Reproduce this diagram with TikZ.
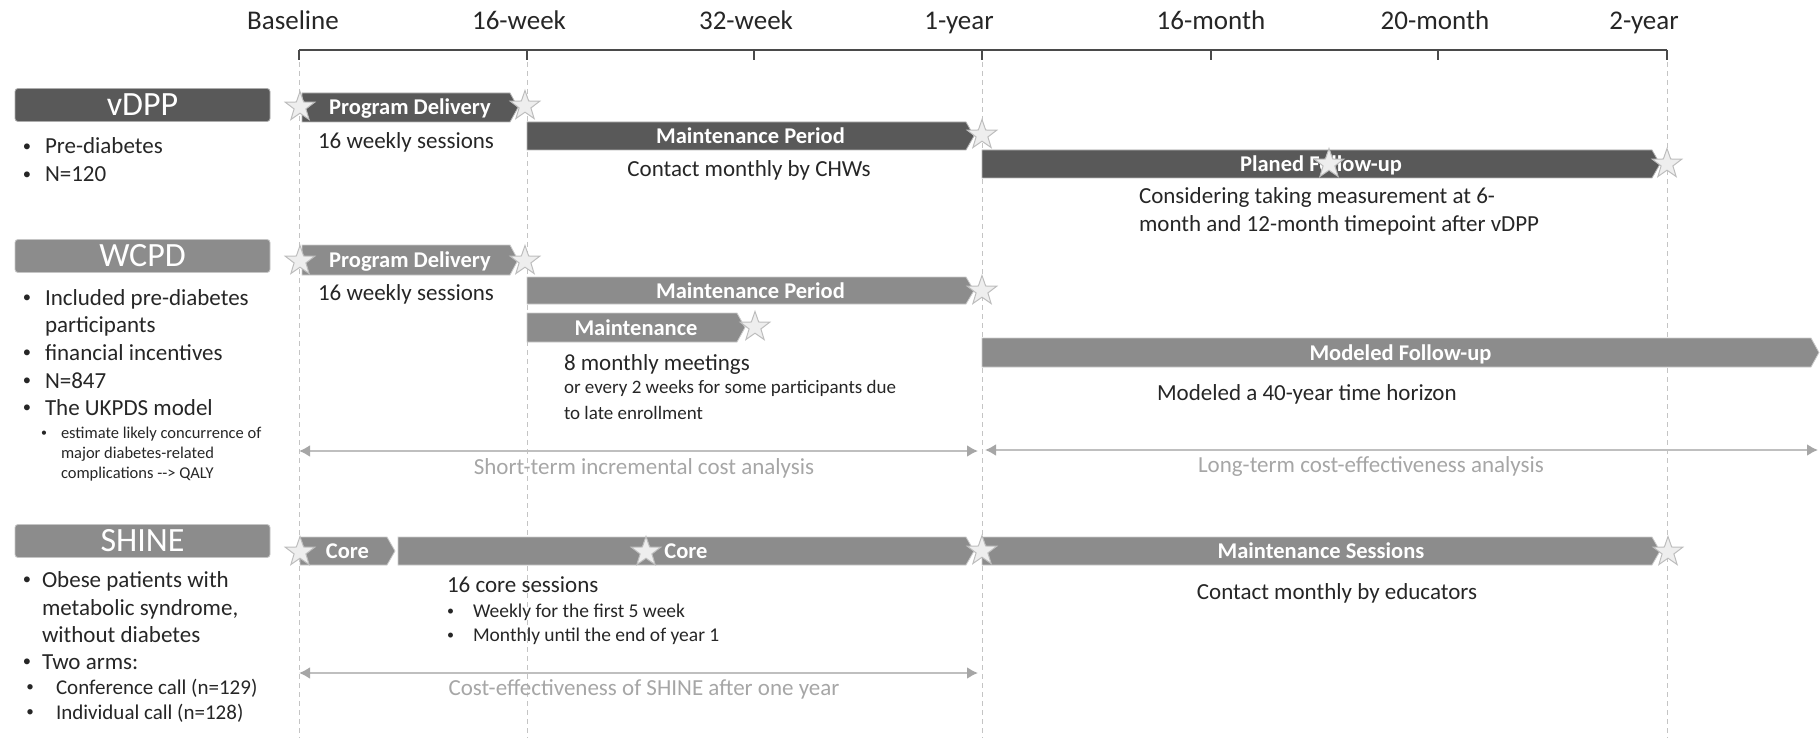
\documentclass[tikz,border=0pt]{standalone}
\usepackage{fontspec}
\setmainfont{Carlito}
\usetikzlibrary{shapes.geometric,arrows.meta}

\definecolor{dark}{HTML}{595959}
\definecolor{mid}{HTML}{8C8C8C}
\definecolor{ink}{HTML}{262626}
\definecolor{soft}{HTML}{A6A6A6}
\definecolor{rule}{HTML}{BFBFBF}
\definecolor{guide}{HTML}{C4C4C4}
\definecolor{axisink}{HTML}{4A4A4A}
\definecolor{starfill}{HTML}{EEEEEE}
\definecolor{staredge}{HTML}{BDBDBD}

\newcommand\fs[1]{\fontsize{#1}{#1}\selectfont}
% small bullet hung to the left of the line
\newcommand\bul[1]{\llap{\raisebox{0.1em}{\scalebox{0.72}{\textbullet}}\hspace{#1}}}

% a phase bar: flat left end, short chevron on the right, bold label in the middle
% #1 name, #2 left x, #3 tip x, #4 top y, #5 bottom y, #6 colour, #7 label
\newcommand\phase[7]{%
  \path[fill=#6, draw=#6!45!white, line width=0.8pt]
    (#2,#4) -- ({#3-8},#4) -- (#3,{(#4+#5)/2}) -- ({#3-8},#5) -- (#2,#5) -- cycle;
  \node[barlabel] (#1) at ({(#2+#3)/2},{(#4+#5)/2+7.5}) {#7};}

\tikzset{
  every node/.style={inner sep=0pt, outer sep=0pt},
  axislabel/.style={anchor=base, font=\fs{27}, text=ink},
  body/.style={anchor=base west, font=\fs{23}, text=ink},
  bodyc/.style={anchor=base, font=\fs{23}, text=ink},
  smallbody/.style={anchor=base west, font=\fs{19}, text=ink},
  corebody/.style={anchor=base west, font=\fs{19.5}, text=ink},
  armbody/.style={anchor=base west, font=\fs{21}, text=ink},
  tinybody/.style={anchor=base west, font=\fs{16.5}, text=ink},
  softlabel/.style={anchor=base, font=\fs{23}, text=soft},
  barlabel/.style={anchor=base, font=\bfseries\fs{22.5}, text=white},
  titlebox/.style={rectangle, rounded corners=3pt, minimum width=255pt,
    minimum height=33pt, fill=#1, draw=#1!50!white, line width=0.8pt,
    font=\fs{34}, text=white},
  starmark/.style={star, star points=5, star point ratio=2.5, minimum size=31pt,
    fill=starfill, draw=staredge, line width=1pt},
  axisline/.style={draw=axisink, line width=2pt},
  guideline/.style={draw=guide, line width=1pt, dash pattern=on 5pt off 4pt},
  span/.style={draw=rule, line width=2pt,
    {Latex[length=11pt,width=12pt,color=soft]}-{Latex[length=11pt,width=12pt,color=soft]}},
}

\begin{document}
\begin{tikzpicture}[x=1pt,y=-1pt]
\useasboundingbox (0,0) rectangle (1820,738);

% ---- time axis ----
\coordinate (t0) at (299,50);
\coordinate (t1) at (527,50);
\coordinate (t2) at (754,50);
\coordinate (t3) at (982,50);
\coordinate (t4) at (1211,50);
\coordinate (t5) at (1438,50);
\coordinate (t6) at (1667,50);
\draw[axisline] (t0) -- (t6);
\foreach \t in {t0,t1,t2,t3,t4,t5,t6} \draw[axisline] (\t) -- ++(0,10);

\node[axislabel] (lb0) at (293,30) {Baseline};
\node[axislabel] (lb1) at (519,30) {16-week};
\node[axislabel] (lb2) at (746,30) {32-week};
\node[axislabel] (lb3) at (959,30) {1-year};
\node[axislabel] (lb4) at (1211,30) {16-month};
\node[axislabel] (lb5) at (1435,30) {20-month};
\node[axislabel] (lb6) at (1644,30) {2-year};

% ---- dashed guides ----
\coordinate (g0) at (299,738);
\coordinate (g1) at (527,738);
\coordinate (g3) at (982,738);
\coordinate (g6) at (1667,738);
\draw[guideline] ([yshift=-12pt]t0) -- (g0);
\draw[guideline] ([yshift=-12pt]t1) -- (g1);
\draw[guideline] ([yshift=-12pt]t3) -- (g3);
\draw[guideline] ([yshift=-12pt]t6) -- (g6);

% ---- vDPP ----
\node[titlebox=dark] (vdpp) at (142.5,105) {vDPP};
\node[body] (v1) at (45,154) {\bul{14pt}Pre-diabetes};
\node[body] (v2) at (45,182) {\bul{14pt}N=120};

\phase{vpd}{302}{518}{93}{122}{dark}{Program Delivery}
\phase{vmp}{527}{974}{122}{150}{dark}{Maintenance Period}
\phase{vfu}{982}{1660}{150}{178}{dark}{Planed Follow-up}

\node[bodyc] (vd1) at (406,149) {16 weekly sessions};
\node[bodyc] (vd2) at (749,177) {Contact monthly by CHWs};
\node[body] (vd3) at (1139,204) {Considering taking measurement at 6-};
\node[body] (vd4) at (1139,232) {month and 12-month timepoint after vDPP};

% ---- WCPD ----
\node[titlebox=mid] (wcpd) at (142.5,256) {WCPD};
\node[body] (w1) at (45,305) {\bul{14pt}Included pre-diabetes};
\node[body] (w1b) at (45,332) {participants};
\node[body] (w2) at (45,360) {\bul{14pt}financial incentives};
\node[body] (w3) at (45,388) {\bul{14pt}N=847};
\node[body] (w4) at (45,415) {\bul{14pt}The UKPDS model};
\node[tinybody] (w5) at (61,438) {\bul{14pt}estimate likely concurrence of};
\node[tinybody] (w5b) at (61,458) {major diabetes-related};
\node[tinybody] (w5c) at (61,478) {complications \mbox{-}\mbox{-}> QALY};

\phase{wpd}{302}{518}{245}{275}{mid}{Program Delivery}
\phase{wmp}{527}{974}{277}{304}{mid}{Maintenance Period}
\phase{wmt}{527}{745}{313}{342}{mid}{Maintenance}
\phase{wfu}{982}{1819}{338}{367}{mid}{Modeled Follow-up}

\node[bodyc] (wd1) at (406,300) {16 weekly sessions};
\node[body] (wd2) at (564,370) {8 monthly meetings};
\node[smallbody] (wd3) at (564,393) {or every 2 weeks for some participants due};
\node[smallbody] (wd4) at (564,419) {to late enrollment};
\node[body] (wd5) at (1157,400) {Modeled a 40-year time horizon};

\coordinate (sa) at (299,451);
\coordinate (sb) at (978,451);
\coordinate (la) at (985,450);
\coordinate (lb) at (1818,450);
\draw[span] (sa) -- (sb);
\draw[span] (la) -- (lb);
\node[softlabel] (stl) at (644,474) {Short-term incremental cost analysis};
\node[softlabel] (ltl) at (1371,472) {Long-term cost-effectiveness analysis};

% ---- SHINE ----
\node[titlebox=mid] (shine) at (142.5,541) {SHINE};
\node[body] (s1) at (42,587) {\bul{11pt}Obese patients with};
\node[body] (s1b) at (42,615) {metabolic syndrome,};
\node[body] (s1c) at (42,642) {without diabetes};
\node[body] (s2) at (42,669) {\bul{11pt}Two arms:};
\node[armbody] (s3) at (56,694) {\bul{22pt}Conference call (n=129)};
\node[armbody] (s4) at (56,719) {\bul{22pt}Individual call (n=128)};

\phase{sca}{300}{395}{537}{565}{mid}{Core}
\phase{scb}{398}{974}{537}{565}{mid}{Core}
\phase{sms}{982}{1660}{537}{565}{mid}{Maintenance Sessions}

\node[body] (sd1) at (447,592) {16 core sessions};
\node[corebody] (sd2) at (473,617) {\bul{19pt}Weekly for the first 5 week};
\node[corebody] (sd3) at (473,641) {\bul{19pt}Monthly until the end of year 1};
\node[bodyc] (sd4) at (1337,599) {Contact monthly by educators};

\coordinate (ca) at (299,673);
\coordinate (cb) at (978,673);
\draw[span] (ca) -- (cb);
\node[softlabel] (ctl) at (644,695) {Cost-effectiveness of SHINE after one year};

% ---- milestone stars ----
\node[starmark] (vs0) at (300,107) {};
\node[starmark] (vs1) at (525,106) {};
\node[starmark] (vs2) at (982,135) {};
\node[starmark] (vs3) at (1329,164) {};
\node[starmark] (vs4) at (1667,164) {};
\node[starmark] (ws0) at (300,261) {};
\node[starmark] (ws1) at (525,261) {};
\node[starmark] (ws2) at (982,291) {};
\node[starmark] (ws3) at (755,327) {};
\node[starmark] (ss0) at (300,552) {};
\node[starmark] (ss1) at (646,552) {};
\node[starmark] (ss2) at (982,551) {};
\node[starmark] (ss3) at (1668,552) {};
\end{tikzpicture}
\end{document}
